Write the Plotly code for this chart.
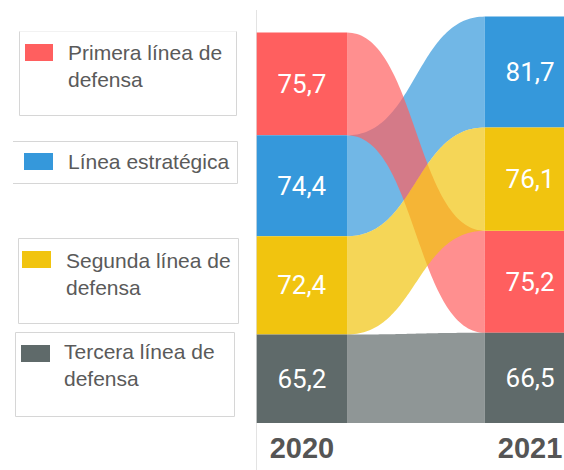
import numpy as np
import plotly.graph_objects as go

# ---------------- data ----------------
series = ["Primera línea de defensa", "Línea estratégica",
          "Segunda línea de defensa", "Tercera línea de defensa"]
legend_labels = ["Primera línea de<br>defensa", "Línea estratégica",
                 "Segunda línea de<br>defensa", "Tercera línea de<br>defensa"]
years = ["2020", "2021"]
values_2020 = [75.7, 74.4, 72.4, 65.2]
values_2021 = [75.2, 81.7, 76.1, 66.5]

# ---------------- style ----------------
colors = ["#FF5F5F", "#3598DB", "#F1C40F", "#5F6A6A"]
ribbon_alpha = 0.7
ribbon_order = [1, 0, 2, 3]          # drawing order of ribbons
bar_width = 0.396
W, H = 564, 470
ML, MR, MT, MB = 256, 0, 10, 47
PW, PH = W - ML - MR, H - MT - MB
px_per_unit = 1.357
y_max = PH / px_per_unit
x_range = [-0.2012, 1.149]


def hex_rgba(h, a):
    h = h.lstrip("#")
    return f"rgba({int(h[0:2],16)},{int(h[2:4],16)},{int(h[4:6],16)},{a})"


def stack_bases(vals):
    order = np.argsort(vals)          # smallest at bottom
    bases = [0.0] * len(vals)
    acc = 0.0
    for i in order:
        bases[i] = acc
        acc += vals[i]
    return bases


base_2020 = stack_bases(values_2020)
base_2021 = stack_bases(values_2021)

fig = go.Figure()

# ---------------- ribbons ----------------
xl = 0 + bar_width / 2
xr = 1 - bar_width / 2
xm = (xl + xr) / 2
t = np.linspace(0, 1, 80)


def bez(p0, p1, p2, p3):
    return ((1 - t) ** 3) * p0 + 3 * ((1 - t) ** 2) * t * p1 + 3 * (1 - t) * t ** 2 * p2 + t ** 3 * p3


for i in ribbon_order:
    b0, t0 = base_2020[i], base_2020[i] + values_2020[i]
    b1, t1 = base_2021[i], base_2021[i] + values_2021[i]
    xs_top = bez(xl, xm, xm, xr)
    ys_top = bez(t0, t0, t1, t1)
    xs_bot = bez(xr, xm, xm, xl)
    ys_bot = bez(b1, b1, b0, b0)
    fig.add_trace(go.Scatter(
        x=np.concatenate([xs_top, xs_bot]),
        y=np.concatenate([ys_top, ys_bot]),
        mode="none", fill="toself",
        fillcolor=hex_rgba(colors[i], ribbon_alpha),
        hoverinfo="skip", showlegend=False, name=series[i]))

# ---------------- bars ----------------
for i, name in enumerate(series):
    vals = [values_2020[i], values_2021[i]]
    fig.add_trace(go.Bar(
        x=[0, 1], y=vals, base=[base_2020[i], base_2021[i]],
        width=bar_width, name=name,
        marker=dict(color=colors[i], line=dict(width=0)),
        text=[f"{v:.1f}".replace(".", ",") for v in vals],
        textposition="inside", insidetextanchor="middle", textangle=0,
        textfont=dict(family="Roboto", size=26, color="white"),
        cliponaxis=True, hoverinfo="skip", showlegend=False))


# ---------------- custom legend boxes ----------------
def px(xp):
    return (xp - ML) / PW


def py(yp):
    return (MT + PH - yp) / PH


border = "#D6D6D6"
shapes = []


def hline(x0, x1, y, color=border):
    shapes.append(dict(type="line", xref="paper", yref="paper",
                       x0=px(x0), x1=px(x1), y0=py(y), y1=py(y),
                       line=dict(color=color, width=1)))


def vline(x, y0, y1, color=border):
    shapes.append(dict(type="line", xref="paper", yref="paper",
                       x0=px(x), x1=px(x), y0=py(y0), y1=py(y1),
                       line=dict(color=color, width=1)))


# box 1
hline(19.5, 236.5, 31.5, "#F2F2F2")
hline(19.5, 236.5, 115.5)
vline(19.5, 31.5, 115.5)
vline(236.5, 31.5, 115.5)
# box 2
hline(13, 237.5, 141.5)
hline(13, 237.5, 183.5)
vline(237.5, 141.5, 183.5)
# box 3
hline(18.5, 238.5, 238.5)
hline(18.5, 238.5, 323.5)
vline(18.5, 238.5, 323.5)
vline(238.5, 238.5, 323.5)
# box 4
hline(15.5, 234.5, 332.5)
hline(15.5, 234.5, 416.5)
vline(15.5, 332.5, 416.5)
vline(234.5, 332.5, 416.5)

swatches = [(25, 44, 53, 61), (24, 153, 53, 170), (22, 251, 51, 268), (21, 345, 50, 362)]
text_pos = [(66, 66), (66, 161), (64, 274), (62, 365)]
annotations = []
for i in range(4):
    x0, y0, x1, y1 = swatches[i]
    shapes.append(dict(type="rect", xref="paper", yref="paper",
                       x0=px(x0), x1=px(x1), y0=py(y1), y1=py(y0),
                       fillcolor=colors[i], line=dict(width=0)))
    tx, ty = text_pos[i]
    annotations.append(dict(xref="paper", yref="paper", x=px(tx), y=py(ty),
                            xanchor="left", yanchor="middle", align="left",
                            text=legend_labels[i], showarrow=False,
                            font=dict(family="Liberation Sans", size=21, color="#5A5A5A")))

# thin vertical rule at left of chart
shapes.append(dict(type="line", xref="paper", yref="paper",
                   x0=px(256.5), x1=px(256.5), y0=py(470), y1=py(10),
                   line=dict(color="#E3E3E3", width=1), layer="below"))

fig.update_layout(
    width=W, height=H,
    margin=dict(l=ML, r=MR, t=MT, b=MB, pad=0),
    paper_bgcolor="white", plot_bgcolor="white",
    barmode="overlay", showlegend=False,
    shapes=shapes, annotations=annotations,
    xaxis=dict(range=x_range, tickvals=[0, 1], ticktext=years,
               showgrid=False, zeroline=False, showline=False, ticks="",
               ticklabelstandoff=5,
               tickfont=dict(family="Liberation Sans", size=29, color="#555555", weight="bold"),
               fixedrange=True),
    yaxis=dict(range=[0, y_max], visible=False, showgrid=False, zeroline=False,
               fixedrange=True),
)

fig.write_html("out.html",
               config={"displayModeBar": False, "staticPlot": True},
               post_script="document.body.style.margin='0';document.body.style.padding='0';"
                           "document.body.style.overflow='hidden';")
